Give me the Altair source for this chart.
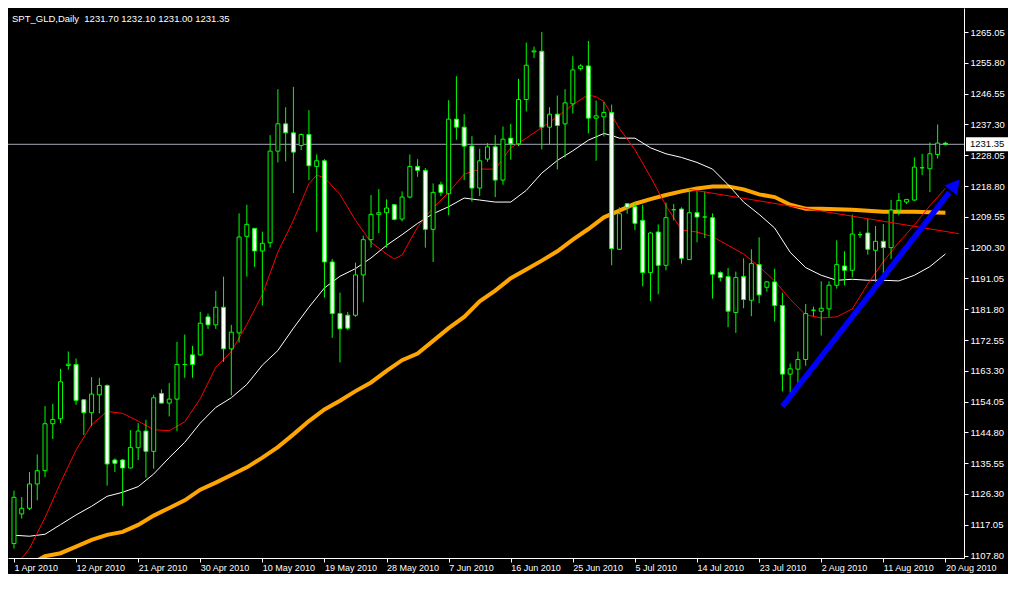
import altair as alt
import pandas as pd

# ---------------- data ----------------
title_text = "SPT_GLD,Daily\u00a0 1231.70 1232.10 1231.00 1231.35"

date_labels = ["1 Apr 2010", "12 Apr 2010", "21 Apr 2010", "30 Apr 2010", "10 May 2010",
               "19 May 2010", "28 May 2010", "7 Jun 2010", "16 Jun 2010", "25 Jun 2010",
               "5 Jul 2010", "14 Jul 2010", "23 Jul 2010", "2 Aug 2010", "11 Aug 2010",
               "20 Aug 2010"]
label_bars = [0, 8, 16, 24, 32, 40, 48, 56, 64, 72, 80, 88, 96, 104, 112, 120]

price_ticks = [1107.80, 1117.05, 1126.30, 1135.55, 1144.80, 1154.05, 1163.30, 1172.55,
               1181.80, 1191.05, 1200.30, 1209.55, 1218.80, 1228.05, 1237.30, 1246.55,
               1255.80, 1265.05]

opens = [1111.4, 1120.3, 1122.0, 1129.3, 1133.3, 1147.4, 1148.9, 1164.9, 1165.2, 1154.6,
         1150.7, 1156.1, 1158.9, 1136.5, 1136.5, 1134.1, 1140.2, 1145.2, 1139.1, 1156.5,
         1153.6, 1154.8, 1165.2, 1168.1, 1168.1, 1179.5, 1177.1, 1182.4, 1169.9, 1174.7,
         1203.7, 1206.1, 1199.3, 1201.8, 1229.3, 1237.5, 1234.8, 1231.0, 1234.3, 1224.7,
         1226.4, 1196.0, 1180.5, 1180.0, 1180.0, 1192.1, 1202.7, 1210.3, 1210.8, 1213.2,
         1208.9, 1215.5, 1224.7, 1223.5, 1205.8, 1219.2, 1216.5, 1238.9, 1236.5, 1230.8,
         1218.2, 1226.9, 1230.6, 1220.6, 1233.2, 1231.5, 1244.8, 1259.1, 1259.3, 1236.5,
         1240.4, 1237.5, 1243.5, 1254.1, 1254.9, 1239.2, 1239.6, 1240.9, 1199.8, 1213.5,
         1212.6, 1208.5, 1192.8, 1205.0, 1195.0, 1211.7, 1211.9, 1196.7, 1210.8, 1209.5,
         1209.3, 1192.8, 1191.6, 1180.8, 1191.6, 1184.5, 1195.2, 1188.4, 1190.0, 1182.9,
         1162.3, 1163.8, 1166.7, 1181.5, 1181.2, 1181.9, 1189.0, 1194.8, 1193.5, 1204.2,
         1204.7, 1199.5, 1202.2, 1200.3, 1211.6, 1214.0, 1214.6, 1224.3, 1224.0, 1228.3,
         1231.70]
highs = [1127.3, 1125.4, 1132.9, 1138.2, 1152.7, 1153.4, 1163.9, 1169.1, 1167.0, 1154.8,
         1161.4, 1161.2, 1159.2, 1137.0, 1136.8, 1145.5, 1147.6, 1148.6, 1156.1, 1157.7,
         1159.6, 1172.0, 1174.2, 1170.8, 1181.0, 1180.5, 1187.3, 1191.6, 1177.1, 1210.6,
         1213.2, 1206.2, 1205.1, 1234.1, 1247.9, 1242.5, 1248.6, 1234.6, 1241.6, 1228.3,
         1226.9, 1196.9, 1186.8, 1181.0, 1195.8, 1203.9, 1216.1, 1217.9, 1214.8, 1213.4,
         1217.2, 1228.3, 1226.9, 1224.2, 1219.6, 1220.1, 1244.6, 1251.8, 1240.4, 1233.8,
         1230.0, 1231.7, 1234.1, 1236.7, 1237.5, 1251.0, 1261.9, 1260.7, 1265.1, 1242.5,
         1246.0, 1247.9, 1257.8, 1255.4, 1262.4, 1244.5, 1244.1, 1243.3, 1212.4, 1213.6,
         1213.8, 1213.2, 1205.1, 1207.3, 1213.8, 1213.4, 1212.4, 1218.0, 1217.7, 1217.2,
         1210.6, 1193.2, 1194.2, 1193.1, 1197.1, 1199.8, 1203.4, 1190.3, 1194.0, 1186.8,
         1165.5, 1169.1, 1183.4, 1182.6, 1190.2, 1190.2, 1202.5, 1199.2, 1210.2, 1205.1,
         1209.0, 1206.8, 1207.4, 1214.6, 1216.7, 1214.8, 1227.4, 1228.5, 1231.9, 1237.3,
         1232.10]
lows = [1109.9, 1118.9, 1121.5, 1124.4, 1131.4, 1142.8, 1147.6, 1163.6, 1153.1, 1144.0,
        1146.7, 1150.5, 1128.8, 1132.9, 1122.7, 1134.0, 1136.5, 1131.2, 1133.9, 1153.5,
        1149.6, 1145.2, 1161.2, 1161.2, 1167.8, 1175.9, 1175.9, 1166.0, 1155.9, 1171.8,
        1191.6, 1194.5, 1182.9, 1200.3, 1225.9, 1226.2, 1216.7, 1229.6, 1220.6, 1205.1,
        1185.3, 1173.2, 1165.8, 1175.5, 1179.5, 1183.9, 1200.3, 1204.7, 1200.3, 1208.5,
        1208.2, 1215.1, 1221.6, 1200.3, 1196.0, 1215.8, 1210.0, 1232.7, 1220.6, 1214.1,
        1215.8, 1226.1, 1215.5, 1219.2, 1226.7, 1230.8, 1241.2, 1257.3, 1229.8, 1231.2,
        1223.8, 1227.4, 1240.6, 1253.5, 1234.6, 1226.4, 1233.7, 1195.0, 1199.6, 1210.5,
        1205.6, 1188.7, 1184.2, 1186.3, 1193.5, 1208.5, 1195.5, 1196.6, 1201.9, 1203.2,
        1185.0, 1190.2, 1176.4, 1174.7, 1182.1, 1179.7, 1183.6, 1187.1, 1178.1, 1157.1,
        1156.5, 1159.4, 1164.8, 1179.7, 1173.9, 1179.5, 1188.0, 1189.0, 1191.4, 1203.2,
        1198.2, 1190.0, 1190.6, 1196.9, 1210.0, 1213.4, 1214.3, 1222.1, 1217.0, 1227.1,
        1231.00]
closes = [1125.3, 1122.0, 1129.3, 1133.3, 1147.4, 1148.7, 1160.0, 1165.3, 1154.4, 1150.7,
          1156.3, 1158.9, 1135.3, 1135.5, 1134.1, 1140.3, 1145.2, 1139.1, 1155.2, 1153.6,
          1154.8, 1165.2, 1165.2, 1165.2, 1177.6, 1177.1, 1182.4, 1169.9, 1174.9, 1203.5,
          1207.3, 1199.3, 1201.6, 1229.3, 1237.5, 1234.8, 1229.0, 1234.3, 1224.9, 1226.4,
          1196.0, 1180.5, 1175.9, 1176.1, 1192.1, 1202.7, 1210.3, 1210.8, 1212.2, 1208.8,
          1215.5, 1224.7, 1223.5, 1205.8, 1216.9, 1216.9, 1238.9, 1236.5, 1230.8, 1218.2,
          1226.4, 1230.6, 1220.6, 1232.9, 1231.5, 1244.8, 1255.1, 1259.4, 1236.5, 1240.4,
          1237.0, 1243.8, 1253.7, 1254.9, 1239.2, 1239.9, 1240.9, 1200.0, 1210.5, 1212.4,
          1207.6, 1192.8, 1204.7, 1195.0, 1209.3, 1211.7, 1197.1, 1210.8, 1209.5, 1209.5,
          1192.3, 1191.3, 1181.2, 1191.3, 1184.7, 1195.5, 1186.1, 1190.0, 1182.9, 1162.3,
          1163.9, 1166.7, 1180.5, 1181.5, 1182.1, 1189.0, 1195.2, 1193.5, 1204.4, 1204.2,
          1199.8, 1202.2, 1200.3, 1211.6, 1214.5, 1214.8, 1224.5, 1224.3, 1228.5, 1231.7,
          1231.35]

red_bars = [0, 2, 4, 6, 8, 10, 12, 14, 16, 18, 20, 22, 24, 26, 28, 30, 32, 34, 36, 38, 39,
            40, 42, 44, 46, 48, 49, 50, 52, 54, 56, 58, 60, 62, 64, 66, 68, 70, 72, 74, 75,
            76, 78, 80, 82, 84, 86, 88, 90, 92, 94, 96, 98, 100, 102, 104, 106, 108, 110,
            112, 114, 116, 118, 120]
red_vals = [1104.1, 1109.9, 1119.2, 1129.7, 1139.5, 1147.1, 1151.1, 1150.5, 1148.2, 1145.6,
            1145.3, 1148.0, 1154.9, 1164.4, 1169.1, 1177.2, 1186.2, 1199.0, 1208.5, 1219.5,
            1222.1, 1221.3, 1216.3, 1208.5, 1201.9, 1198.4, 1196.9, 1198.1, 1206.5, 1212.3,
            1216.9, 1222.4, 1223.9, 1223.9, 1230.3, 1233.2, 1236.4, 1239.6, 1243.3, 1246.2,
            1245.6, 1244.2, 1236.1, 1229.7, 1221.6, 1212.9, 1205.6, 1205.0, 1203.6, 1201.0,
            1198.4, 1194.6, 1190.3, 1184.8, 1180.1, 1179.2, 1179.5, 1181.9, 1189.4, 1196.1,
            1201.9, 1207.1, 1212.9, 1218.1]

white_bars = [0, 2, 4, 6, 8, 10, 12, 14, 16, 18, 20, 22, 24, 26, 28, 30, 32, 34, 36, 38,
              40, 42, 44, 46, 48, 50, 52, 54, 56, 58, 60, 62, 64, 66, 68, 70, 72, 74, 76,
              77, 78, 80, 82, 84, 86, 88, 90, 92, 94, 96, 98, 100, 102, 104, 106, 108, 110,
              112, 114, 116, 118, 120]
white_vals = [1113.9, 1113.6, 1114.2, 1117.1, 1120.0, 1122.6, 1125.6, 1126.8, 1128.5, 1132.3,
              1137.2, 1141.8, 1147.6, 1152.3, 1155.2, 1159.2, 1165.0, 1169.4, 1176.1, 1182.4,
              1188.2, 1191.7, 1194.0, 1197.2, 1201.0, 1204.2, 1207.6, 1210.5, 1212.6, 1215.2,
              1214.6, 1214.0, 1214.0, 1217.5, 1222.7, 1226.5, 1229.4, 1232.6, 1234.6, 1234.0,
              1233.2, 1233.2, 1230.3, 1228.5, 1227.4, 1225.9, 1223.9, 1219.2, 1214.0, 1210.3,
              1206.2, 1198.9, 1194.3, 1192.0, 1190.5, 1190.8, 1190.5, 1190.5, 1190.3, 1192.0,
              1194.6, 1198.4]

orange_bars = [0, 2, 4, 6, 8, 10, 12, 14, 16, 18, 20, 22, 24, 26, 28, 30, 32, 34, 36, 38,
               40, 42, 44, 46, 48, 50, 52, 54, 56, 58, 60, 62, 64, 66, 68, 70, 72, 74, 76,
               78, 80, 82, 84, 86, 88, 90, 92, 94, 96, 98, 100, 102, 104, 108, 112, 116, 120]
orange_vals = [1102.7, 1105.0, 1107.6, 1108.5, 1110.5, 1112.5, 1114.0, 1114.9, 1117.0, 1119.8,
               1122.1, 1124.4, 1127.6, 1129.7, 1132.0, 1134.3, 1137.2, 1140.4, 1144.2, 1148.2,
               1151.7, 1154.3, 1157.2, 1159.8, 1163.3, 1166.5, 1168.5, 1172.3, 1176.1, 1179.5,
               1184.2, 1187.4, 1191.1, 1193.7, 1196.4, 1199.2, 1202.7, 1205.9, 1209.4, 1211.4,
               1213.5, 1214.9, 1216.1, 1217.2, 1218.1, 1218.7, 1218.7, 1217.8, 1216.3, 1215.5,
               1213.2, 1212.0, 1212.0, 1211.7, 1211.1, 1211.1, 1210.8]

trend_bars = [87, 121.75]
trend_vals = [1217.8, 1204.5]

arrow_bars = [99.0, 120.5]
arrow_vals = [1152.6, 1216.9]
arrow_head_bar = [121.25]
arrow_head_val = [1219.1]

last_price = 1231.35

# ---------------- layout ----------------
W, H = 956, 550
x_domain = [-0.125, 121.75]
y_domain = [1107.06, 1272.3]
FONT = "Liberation Sans"

xs = alt.Scale(domain=x_domain, nice=False, zero=False)
ys = alt.Scale(domain=y_domain, nice=False, zero=False)

candles = pd.DataFrame({"bar": list(range(len(opens))), "open": opens, "high": highs,
                        "low": lows, "close": closes})
red_df = pd.DataFrame({"bar": red_bars, "v": red_vals})
white_df = pd.DataFrame({"bar": white_bars, "v": white_vals})
orange_df = pd.DataFrame({"bar": orange_bars, "v": orange_vals})
trend_df = pd.DataFrame({"bar": trend_bars, "v": trend_vals})
arrow_df = pd.DataFrame({"bar": arrow_bars, "v": arrow_vals})
head_df = pd.DataFrame({"bar": arrow_head_bar, "v": arrow_head_val})
last_df = pd.DataFrame({"p": [last_price], "t": [f"{last_price:.2f}"]})
title_df = pd.DataFrame({"t": [title_text]})

label_expr = "[" + ",".join(f"'{d}'" for d in date_labels) + "][round(datum.value / 8)]"

x_axis = alt.Axis(values=label_bars, labelExpr=label_expr, orient="bottom", title="",
                  domainColor="white", tickColor="white", tickSize=4, labelColor="white",
                  labelFont=FONT, labelFontSize=9, labelAlign="left", labelBaseline="top",
                  labelPadding=1, labelFlush=False, labelOverlap=False, grid=False)
y_axis = alt.Axis(values=price_ticks, format=".2f", orient="right", title="",
                  domainColor="white", tickColor="white", tickSize=4, labelColor="white",
                  labelFont=FONT, labelFontSize=9.5, labelPadding=2, labelFlush=False,
                  labelOverlap=False, grid=False)


def X(field="bar"):
    return alt.X(f"{field}:Q", scale=xs, axis=x_axis, title="")


def Y(field):
    return alt.Y(f"{field}:Q", scale=ys, axis=y_axis, title="")


# current price horizontal line
price_line = alt.Chart(last_df).mark_rule(color="#a4a8b4", strokeWidth=1).encode(
    x=alt.value(0), x2=alt.value(W), y=Y("p"))

orange_line = alt.Chart(orange_df).mark_line(color="#ffa500", strokeWidth=4, clip=True).encode(
    x=X(), y=Y("v"))
white_line = alt.Chart(white_df).mark_line(color="#ffffff", strokeWidth=1, clip=True).encode(
    x=X(), y=Y("v"))
red_line = alt.Chart(red_df).mark_line(color="#ff0000", strokeWidth=1, clip=True).encode(
    x=X(), y=Y("v"))

wicks = alt.Chart(candles).mark_rule(color="#00ff00", strokeWidth=1).encode(
    x=X(), y=Y("low"), y2="high:Q")
bodies = alt.Chart(candles).mark_bar(width=4, stroke="#00ff00", strokeWidth=1).encode(
    x=X(), y=Y("open"), y2="close:Q",
    fill=alt.condition(alt.datum.close >= alt.datum.open, alt.value("#000000"), alt.value("#ffffff")),
)

trend = alt.Chart(trend_df).mark_line(color="#ff0000", strokeWidth=1, clip=True).encode(
    x=X(), y=Y("v"))
arrow = alt.Chart(arrow_df).mark_line(color="#0000ff", strokeWidth=5.5).encode(
    x=X(), y=Y("v"))
head = alt.Chart(head_df).mark_point(shape="triangle-up", size=260, angle=38, filled=True,
                                     color="#0000ff", opacity=1).encode(x=X(), y=Y("v"))

last_box = alt.Chart(last_df).mark_rect(color="#ffffff", yOffset=-7, y2Offset=7).encode(
    x=alt.value(W + 2), x2=alt.value(W + 44),
    y=Y("p"), y2="p:Q")
last_text = alt.Chart(last_df).mark_text(color="#000000", font=FONT, fontSize=9.5, align="left",
                                         baseline="middle").encode(
    x=alt.value(W + 6), y=Y("p"), text="t:N")

title = alt.Chart(title_df).mark_text(color="#ffffff", font=FONT, fontSize=9.5, align="left",
                                      baseline="middle").encode(
    x=alt.value(4), y=alt.value(11), text="t:N")

chart = alt.layer(
    price_line, orange_line, white_line, red_line, wicks, bodies,
    trend, arrow, head, last_box, last_text, title
).properties(
    width=W, height=H,
    autosize=alt.AutoSizeParams(type="none"),
    padding={"left": 0, "top": 0, "right": 44, "bottom": 16},
).configure(background="#000000").configure_view(strokeWidth=0)

chart.save("out.html", embed_options={"renderer": "svg", "actions": False})
